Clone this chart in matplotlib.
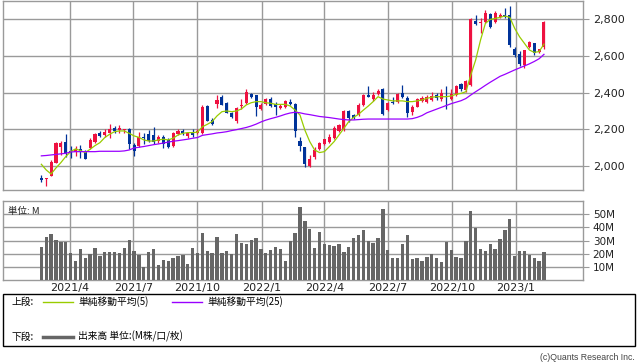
import matplotlib
matplotlib.use("Agg")
import matplotlib.pyplot as plt
import matplotlib.dates as mdates
import numpy as np
import pandas as pd
from matplotlib.lines import Line2D
from matplotlib.patches import Rectangle

# weekly candles (Friday dates)
dates = pd.date_range("2021-02-19", periods=104, freq="7D")

opens = [1936, 1930, 1947, 2018, 2105, 2133, 2083, 2078, 2091, 2078,
         2096, 2133, 2178, 2167, 2182, 2209, 2196, 2198, 2200, 2115,
         2111, 2160, 2175, 2169, 2138, 2160, 2142, 2111, 2175, 2191,
         2165, 2187, 2178, 2178, 2327, 2251, 2338, 2375, 2345, 2291,
         2247, 2327, 2342, 2393, 2387, 2311, 2336, 2365, 2336, 2315,
         2320, 2351, 2338, 2138, 2102, 2000, 2047, 2093, 2120, 2133,
         2151, 2193, 2196, 2300, 2278, 2278, 2333, 2387, 2364, 2393,
         2418, 2305, 2351, 2351, 2396, 2373, 2296, 2324, 2356, 2351,
         2360, 2387, 2364, 2380, 2365, 2387, 2445, 2415, 2442, 2793,
         2780, 2787, 2829, 2787, 2813, 2822, 2825, 2640, 2609, 2551,
         2651, 2669, 2622, 2651]
highs = [1948, 1935, 2033, 2128, 2136, 2175, 2107, 2110, 2115, 2085,
         2154, 2182, 2191, 2200, 2229, 2218, 2224, 2204, 2205, 2124,
         2187, 2182, 2198, 2214, 2171, 2169, 2151, 2185, 2200, 2200,
         2187, 2200, 2200, 2330, 2330, 2260, 2387, 2387, 2351, 2296,
         2320, 2365, 2418, 2400, 2387, 2345, 2371, 2376, 2351, 2338,
         2360, 2365, 2342, 2160, 2105, 2060, 2105, 2133, 2148, 2173,
         2218, 2230, 2305, 2305, 2285, 2345, 2392, 2436, 2405, 2418,
         2425, 2350, 2378, 2396, 2442, 2380, 2330, 2373, 2380, 2385,
         2405, 2400, 2418, 2436, 2418, 2442, 2450, 2470, 2805, 2825,
         2805, 2850, 2835, 2845, 2835, 2860, 2873, 2648, 2625, 2635,
         2680, 2673, 2640, 2790]
lows = [1915, 1892, 1945, 2015, 2060, 2051, 2042, 2055, 2042, 2038,
        2090, 2125, 2157, 2160, 2151, 2178, 2182, 2180, 2093, 2056,
        2105, 2120, 2130, 2120, 2127, 2100, 2100, 2105, 2169, 2170,
        2151, 2160, 2175, 2175, 2245, 2222, 2315, 2330, 2287, 2262,
        2236, 2311, 2340, 2370, 2273, 2305, 2330, 2320, 2276, 2311,
        2315, 2333, 2160, 2084, 1996, 1996, 2036, 2085, 2115, 2125,
        2145, 2185, 2190, 2240, 2258, 2270, 2325, 2375, 2355, 2387,
        2276, 2300, 2338, 2345, 2370, 2265, 2280, 2320, 2350, 2345,
        2355, 2360, 2355, 2311, 2360, 2380, 2410, 2405, 2438, 2770,
        2724, 2780, 2755, 2780, 2810, 2810, 2650, 2595, 2545, 2535,
        2645, 2605, 2615, 2640]
closes = [1922, 1935, 2022, 2124, 2127, 2069, 2069, 2091, 2078, 2040,
          2142, 2173, 2165, 2185, 2204, 2191, 2205, 2203, 2120, 2083,
          2160, 2154, 2138, 2133, 2160, 2120, 2105, 2178, 2191, 2182,
          2182, 2169, 2191, 2324, 2247, 2229, 2360, 2333, 2291, 2269,
          2315, 2333, 2402, 2378, 2320, 2333, 2365, 2327, 2324, 2327,
          2355, 2338, 2193, 2109, 2011, 2036, 2087, 2124, 2145, 2160,
          2209, 2224, 2300, 2264, 2264, 2333, 2387, 2378, 2387, 2411,
          2284, 2345, 2342, 2391, 2378, 2291, 2324, 2364, 2369, 2378,
          2382, 2369, 2396, 2375, 2393, 2436, 2418, 2464, 2800, 2775,
          2783, 2833, 2760, 2833, 2824, 2815, 2658, 2605, 2555, 2633,
          2675, 2615, 2636, 2787]

# moving averages
ma5 = [2009, 1978, 1956, 1989, 2018, 2051, 2078, 2093, 2084, 2073,
       2091, 2111, 2127, 2155, 2173, 2187, 2191, 2191, 2178, 2164,
       2156, 2142, 2136, 2136, 2142, 2146, 2142, 2151, 2169, 2178,
       2182, 2182, 2184, 2214, 2227, 2242, 2273, 2296, 2300, 2296,
       2300, 2311, 2333, 2345, 2351, 2351, 2345, 2342, 2336, 2336,
       2336, 2327, 2305, 2278, 2196, 2133, 2087, 2073, 2078, 2105,
       2133, 2169, 2205, 2242, 2265, 2282, 2305, 2327, 2351, 2378,
       2365, 2360, 2355, 2355, 2355, 2351, 2351, 2355, 2360, 2369,
       2375, 2378, 2378, 2378, 2382, 2391, 2396, 2405, 2496, 2578,
       2687, 2778, 2800, 2805, 2811, 2818, 2811, 2751, 2705, 2669,
       2633, 2620, 2624, 2665]
ma25 = [2055, 2057, 2060, 2063, 2066, 2069, 2076, 2078, 2078, 2078,
        2078, 2078, 2080, 2080, 2080, 2080, 2080, 2082, 2087, 2098,
        2102, 2106, 2111, 2116, 2120, 2125, 2130, 2135, 2138, 2142,
        2146, 2151, 2155, 2167, 2171, 2175, 2180, 2183, 2187, 2193,
        2198, 2204, 2210, 2218, 2228, 2240, 2250, 2258, 2265, 2273,
        2282, 2289, 2293, 2290, 2284, 2280, 2275, 2270, 2267, 2264,
        2260, 2256, 2253, 2251, 2251, 2253, 2255, 2256, 2256, 2256,
        2256, 2256, 2256, 2256, 2256, 2256, 2258, 2265, 2275, 2290,
        2300, 2310, 2320, 2330, 2340, 2348, 2356, 2368, 2387, 2405,
        2422, 2440, 2457, 2473, 2489, 2500, 2512, 2524, 2535, 2546,
        2557, 2570, 2585, 2609]

# volume, millions
volume = [25.4, 32.9, 34.9, 30.4, 28.9, 28.9, 20.6, 14.8, 23.9, 17.1,
          19.8, 24.6, 18.6, 21.3, 21.3, 21.3, 20.6, 24.6, 30.4, 22.3,
          19.3, 10.3, 21.3, 23.6, 11.5, 15.3, 14.5, 17.1, 18.6, 19.3,
          12.5, 24.6, 20.6, 35.7, 22.3, 20.6, 32.7, 20.6, 22.1, 19.6,
          34.9, 28.1, 27.1, 30.4, 32.2, 23.6, 20.6, 22.8, 25.1, 23.6,
          14.5, 29.9, 35.7, 55.3, 44.8, 39.0, 24.6, 36.4, 27.4, 26.6,
          25.9, 27.4, 21.3, 25.1, 32.2, 34.2, 38.0, 29.9, 28.4, 31.9,
          53.8, 22.8, 17.1, 17.1, 27.4, 34.2, 16.3, 17.1, 14.8, 17.8,
          19.8, 17.1, 14.0, 28.9, 22.8, 17.8, 17.1, 29.9, 52.6, 39.7,
          23.9, 22.1, 27.4, 23.9, 31.4, 38.2, 46.3, 18.6, 22.1, 22.1,
          19.3, 17.1, 14.8, 21.3]

month_ticks = ["2021-04-01", "2021-07-01", "2021-10-01", "2022-01-01",
               "2022-04-01", "2022-07-01", "2022-10-01", "2023-01-01"]
month_labels = ["2021/4", "2021/7", "2021/10", "2022/1",
                "2022/4", "2022/7", "2022/10", "2023/1"]

RED = "#ee1140"
BLUE = "#003399"
GRID = "#9a9a9a"
CJK = ["Noto Sans CJK JP", "DejaVu Sans"]

W, H = 638, 362
fig = plt.figure(figsize=(W / 100, H / 100), dpi=100)


def px_axes(x0, y0, x1, y1):
    return fig.add_axes([x0 / W, 1 - y1 / H, (x1 - x0) / W, (y1 - y0) / H])


def fig_text(x, y, s, **kw):
    fig.text(x / W, 1 - y / H, s, **kw)


x = mdates.date2num(dates)
o = np.array(opens)
c = np.array(closes)
up = c >= o
col = np.where(up, RED, BLUE)
body_lo = np.minimum(o, c)
body_h = np.maximum(np.abs(c - o), 4)

xmin = mdates.date2num(pd.Timestamp("2020-12-26"))
xmax = mdates.date2num(pd.Timestamp("2023-04-07"))
tick_x = mdates.date2num(pd.to_datetime(month_ticks))

ax = px_axes(3, 0.5, 583, 190.3)
axv = px_axes(3, 201, 583, 280.3)

for a in (ax, axv):
    a.set_xlim(xmin, xmax)
    a.set_xticks(tick_x)
    a.set_axisbelow(True)
    a.grid(True, color=GRID, lw=1)
    for s in a.spines.values():
        s.set_color(GRID)
        s.set_linewidth(1)
    a.tick_params(axis="y", left=False, labelleft=False, right=True, labelright=True,
                  length=4, color=GRID, labelsize=8, labelcolor="#222222", pad=3)
    a.tick_params(axis="x", length=0, color=GRID)

# price panel
ax.vlines(x, lows, highs, color=col, lw=0.9, zorder=2)
ax.bar(x, body_h, bottom=body_lo, width=4.4, color=col, lw=0, zorder=3)
ax.plot(x, ma5, color="#99cc00", lw=0.9, zorder=4)
ax.plot(x, ma25, color="#9900ff", lw=0.9, zorder=4)
ax.set_ylim(1867, 2903)
ax.set_yticks([2000, 2200, 2400, 2600, 2800])
ax.set_yticklabels(["{:,}".format(v) for v in [2000, 2200, 2400, 2600, 2800]])
ax.set_xticklabels([])

# volume panel
axv.bar(x, volume, width=4.8, color="#666666", lw=0, zorder=3)
axv.set_ylim(0, 60)
axv.set_yticks([10, 20, 30, 40, 50])
axv.set_yticklabels(["10M", "20M", "30M", "40M", "50M"])
axv.set_xticklabels(month_labels, fontsize=8, color="#222222")
axv.tick_params(axis="x", pad=2)
axv.tick_params(axis="y", labelsize=7.5)
axv.text(0.009, 0.87, "単位: M", transform=axv.transAxes, fontsize=6.8,
         family=CJK, va="center", ha="left", color="#222222")

# legend box
fig.add_artist(Rectangle((3 / W, 1 - 346 / H), 632 / W, 52 / H, transform=fig.transFigure,
                         fill=False, ec="black", lw=1))
fig_text(12, 302, "上段:", fontsize=7, family=CJK, va="center")
fig.add_artist(Line2D([43 / W, 73 / W], [1 - 302 / H] * 2, transform=fig.transFigure,
                      color="#99cc00", lw=1))
fig_text(78, 302, "単純移動平均(5)", fontsize=7, family=CJK, va="center")
fig.add_artist(Line2D([172 / W, 202 / W], [1 - 302 / H] * 2, transform=fig.transFigure,
                      color="#9900ff", lw=1))
fig_text(207, 302, "単純移動平均(25)", fontsize=7, family=CJK, va="center")
fig_text(12, 336.5, "下段:", fontsize=7, family=CJK, va="center")
fig.add_artist(Line2D([43 / W, 73 / W], [1 - 336.5 / H] * 2, transform=fig.transFigure,
                      color="#666666", lw=2.5))
fig_text(78, 336.5, "出来高 単位:(M株/口/枚)", fontsize=7, family=CJK, va="center")

fig_text(635, 357, "(c)Quants Research Inc.", fontsize=6.3,
         family=["Liberation Sans Narrow", "Liberation Sans", "DejaVu Sans"],
         ha="right", va="center", color="#444444")

fig.savefig("out.png", dpi=100)
